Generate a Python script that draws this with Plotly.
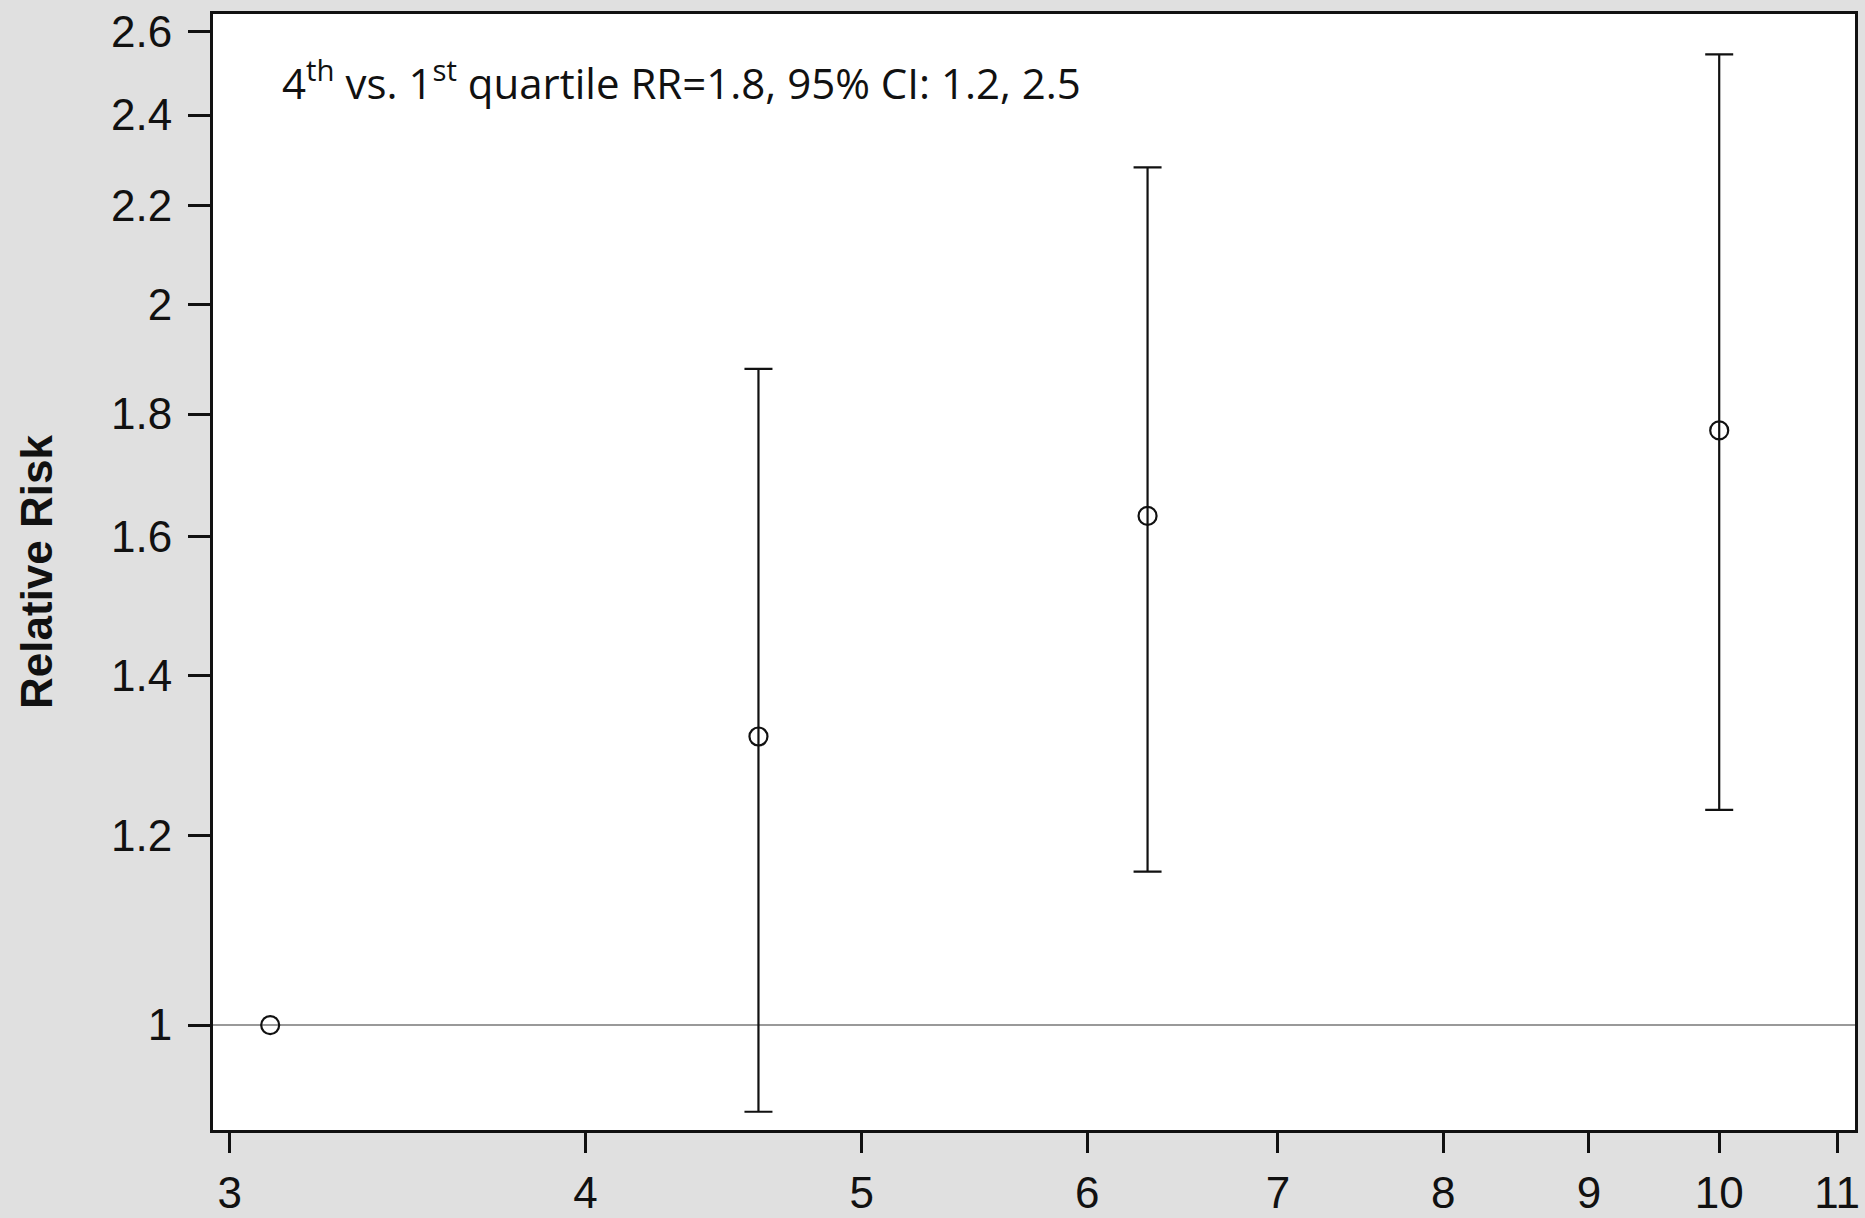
import math
import plotly.graph_objects as go

# Data
x_vals = [3.1, 4.6, 6.3, 10.0]
rr = [1.0, 1.32, 1.632, 1.772]
ci_lower = [None, 0.92, 1.159, 1.230]
ci_upper = [None, 1.88, 2.282, 2.544]

x_ticks = [3, 4, 5, 6, 7, 8, 9, 10, 11]
y_ticks = [1, 1.2, 1.4, 1.6, 1.8, 2, 2.2, 2.4, 2.6]
y_tick_text = ["1", "1.2", "1.4", "1.6", "1.8", "2", "2.2", "2.4", "2.6"]
annotation_text = "4<sup>th</sup> vs. 1<sup>st</sup> quartile RR=1.8, 95% CI: 1.2, 2.5"
y_title = "Relative Risk"

W, H = 1865, 1218
L, R, T, B = 213, 10, 14, 88

ci_idx = [i for i in range(len(x_vals)) if ci_lower[i] is not None]

fig = go.Figure()
fig.add_trace(go.Scatter(
    x=[x_vals[i] for i in ci_idx],
    y=[rr[i] for i in ci_idx],
    mode="markers",
    marker=dict(size=1, color="rgba(0,0,0,0)"),
    error_y=dict(type="data", symmetric=False,
                 array=[ci_upper[i] - rr[i] for i in ci_idx],
                 arrayminus=[rr[i] - ci_lower[i] for i in ci_idx],
                 color="#111111", thickness=2.2, width=14),
    showlegend=False, hoverinfo="skip"))
fig.add_trace(go.Scatter(
    x=x_vals, y=rr, mode="markers",
    marker=dict(symbol="circle-open", size=18, color="#111111", line=dict(width=2.2)),
    showlegend=False))

fig.add_shape(type="line", xref="paper", x0=0, x1=1, yref="y", y0=1, y1=1,
              line=dict(color="#999999", width=2), layer="below")

fig.add_annotation(text=annotation_text, xref="paper", yref="paper",
                   x=0.041, y=0.94, xanchor="left", yanchor="middle",
                   showarrow=False, font=dict(family="Open Sans", size=42, color="#111111"))

axis_common = dict(showline=True, linecolor="#111111", linewidth=3, mirror=True,
                   ticks="outside", tickwidth=2.5, tickcolor="#111111",
                   showgrid=False, zeroline=False, automargin=False,
                   tickfont=dict(family="Liberation Sans", size=44, color="#111111"))

fig.update_xaxes(type="log", range=[math.log10(2.960), math.log10(11.16)], ticklen=20,
                 ticklabelstandoff=2,
                 tickvals=x_ticks, ticktext=[str(v) for v in x_ticks], **axis_common)
fig.update_yaxes(type="log", range=[math.log10(0.904), math.log10(2.645)], ticklen=22,
                 ticklabelstandoff=7,
                 tickvals=y_ticks, ticktext=y_tick_text,
                 title=dict(text=y_title, standoff=45,
                            font=dict(family="Liberation Sans", size=44, color="#111111", weight="bold")),
                 **axis_common)

fig.update_layout(width=W, height=H, margin=dict(l=L, r=R, t=T, b=B, autoexpand=False),
                  paper_bgcolor="#e0e0e0", plot_bgcolor="#ffffff")

fig.write_html("out.html")
